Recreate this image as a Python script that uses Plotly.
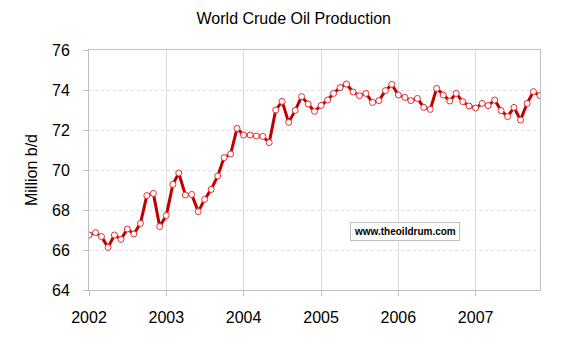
import plotly.graph_objects as go
import pandas as pd

months = pd.date_range("2002-01-01", periods=71, freq="MS").strftime("%Y-%m-%d").tolist()
production = [
    66.75, 66.87, 66.67, 66.13, 66.75, 66.53, 67.05, 66.80, 67.33, 68.72, 68.83, 67.17,
    67.72, 69.28, 69.85, 68.75, 68.78, 67.92, 68.53, 69.03, 69.70, 70.62, 70.80, 72.08,
    71.75, 71.75, 71.70, 71.68, 71.37, 73.00, 73.43, 72.38, 72.98, 73.67, 73.30, 72.93,
    73.23, 73.50, 73.83, 74.12, 74.30, 73.90, 73.72, 73.83, 73.38, 73.47, 73.97, 74.28,
    73.75, 73.63, 73.47, 73.58, 73.13, 73.03, 74.08, 73.75, 73.45, 73.83, 73.42, 73.20,
    73.10, 73.33, 73.22, 73.50, 72.97, 72.67, 73.13, 72.50, 73.33, 73.92, 73.72,
]
year_ticks = ["2002-01-01", "2003-01-01", "2004-01-01", "2005-01-01", "2006-01-01", "2007-01-01"]
year_labels = ["2002", "2003", "2004", "2005", "2006", "2007"]
y_ticks = [64, 66, 68, 70, 72, 74, 76]

fig = go.Figure()
fig.add_trace(go.Scatter(
    x=months, y=production, mode="lines+markers",
    line=dict(color="#C00000", width=3),
    marker=dict(size=6, color="white", line=dict(color="#E03030", width=1)),
    showlegend=False,
))

fig.update_layout(
    width=576, height=348,
    margin=dict(l=89, r=36, t=50, b=58),
    paper_bgcolor="white", plot_bgcolor="white",
    font=dict(family="Liberation Sans, Arial, sans-serif", color="#000000"),
    title=dict(text="World Crude Oil Production", x=0.51, xanchor="center",
               y=0.948, yanchor="middle", font=dict(size=16, color="#000")),
    xaxis=dict(
        type="date", range=["2002-01-01", "2007-11-01"],
        tickvals=year_ticks, ticktext=year_labels,
        showgrid=True, gridcolor="#dcdcdc", gridwidth=1,
        showline=True, linecolor="#bfbfbf", linewidth=1, mirror=True,
        ticks="outside", ticklen=5, tickcolor="#bfbfbf",
        tickfont=dict(size=16), zeroline=False, ticklabelstandoff=8,
    ),
    yaxis=dict(
        range=[64, 76], tickvals=y_ticks,
        showgrid=True, gridcolor="#e0e0e0", gridwidth=1, griddash="dot",
        showline=True, linecolor="#bfbfbf", linewidth=1, mirror=True,
        ticks="outside", ticklen=5, tickcolor="#bfbfbf",
        tickfont=dict(size=16), zeroline=False, ticklabelstandoff=10,
        title=dict(text="Million b/d", font=dict(size=16), standoff=10),
    ),
    annotations=[dict(
        text="<b>www.theoildrum.com</b>", xref="paper", yref="paper",
        x=0.70, y=0.245, xanchor="center", yanchor="middle", showarrow=False,
        font=dict(size=10, color="#000"), bordercolor="#bfbfbf", borderwidth=1,
        borderpad=3, bgcolor="white",
    )],
)

fig.write_html("out.html")
